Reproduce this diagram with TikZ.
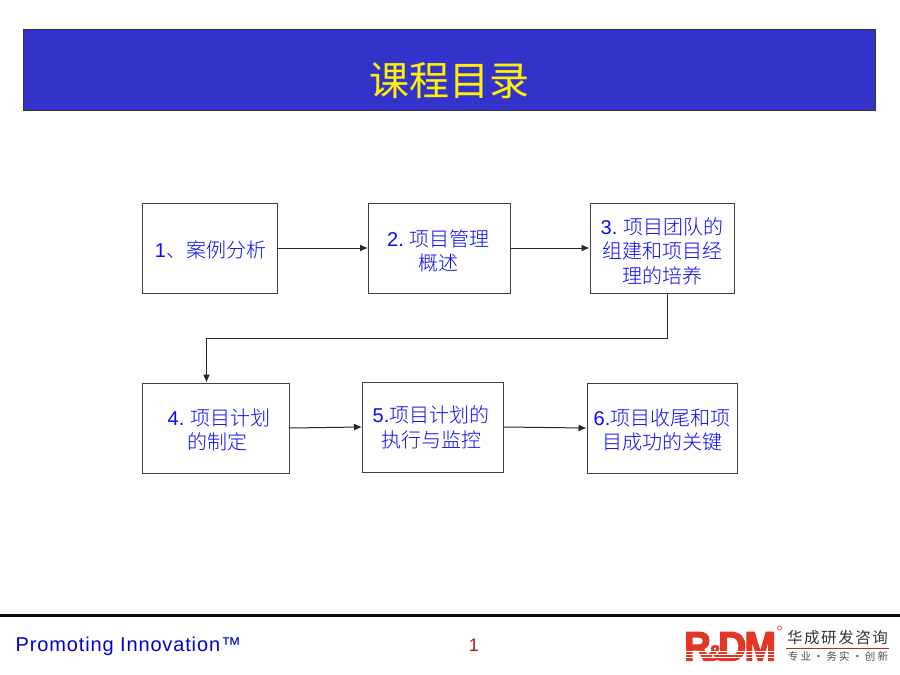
\documentclass[tikz,border=0pt]{standalone}
\usepackage{fontspec}
\setmainfont{Liberation Sans}
\newfontfamily\cjk{Noto Sans CJK SC}
\newfontfamily\cjkl{Noto Sans CJK SC Light}
\newfontfamily\logofont[FakeBold=3.5]{Liberation Sans Bold}
\usetikzlibrary{arrows.meta}
\definecolor{bannerblue}{RGB}{51,51,204}
\definecolor{txtblue}{RGB}{10,10,240}
\definecolor{footblue}{RGB}{0,0,204}
\definecolor{logored}{RGB}{226,54,38}
\definecolor{numred}{RGB}{150,30,30}
\tikzset{
  stepbox/.style={draw=black!75,line width=1pt,fill=white,inner sep=0pt},
  steptext/.style={text=txtblue,align=center,inner sep=0pt,font=\fontsize{20}{24.5}\selectfont\cjkl},
  flow/.style={draw=black!85,line width=1pt,-{Latex[length=8pt,width=7pt]}},
  logotext/.style={anchor=base west,inner sep=0pt,text=logored}
}
% box: name, x, y, width, height, text, text shift x, text shift y
\newcommand{\stepnode}[8]{\node[stepbox,minimum width=#4pt,minimum height=#5pt] (#1) at (#2,#3) {};
  \node[steptext] (#1t) at (#2+#7,#3+#8) {#6};}
\newcommand{\latin}[1]{{\fontspec{Liberation Sans}#1}}
\begin{document}
\begin{tikzpicture}[x=1pt,y=-1pt]
\useasboundingbox (0,0) rectangle (900,675);
\node[draw=black!80,line width=0.8pt,fill=bannerblue,minimum width=852pt,minimum height=81pt,inner sep=0pt] (banner) at (449.5,69.5) {};
\node[text=yellow,inner sep=0pt,font=\fontsize{40}{48}\selectfont\cjk] (title) at (449.5,80.5) {课程目录};
\stepnode{a}{209.5}{248}{135}{90}{\latin{1}、案例分析}{1}{2}
\stepnode{b}{439.5}{248}{142}{90}{\latin{2.} 项目管理\\概述}{-1}{3}
\stepnode{c}{662}{248}{144}{90}{\latin{3.} 项目团队的\\组建和项目经\\理的培养}{0}{3}
\stepnode{d}{215.5}{428}{147}{90}{\hspace*{3pt}\latin{4.} 项目计划\\的制定}{2}{2}
\stepnode{e}{433}{427}{141}{90}{\latin{5.}项目计划的\\执行与监控}{-2}{0.5}
\stepnode{f}{662}{428}{150}{90}{\latin{6.}项目收尾和项\\目成功的关键}{0}{2}
\draw[flow] (a.east) -- (b.west);
\draw[flow] (b.east) -- (c.west);
\coordinate (cdown) at (667,338);
\coordinate (dup) at (206.5,338);
\draw[flow] (c.south -| cdown) -- (cdown) -- (dup) -- (d.north -| dup);
\draw[flow] (d.east) -- (e.west);
\draw[flow] (e.east) -- (f.west);
% footer
\coordinate (ruleL) at (0,615); \coordinate (ruleR) at (900,615);
\draw[line width=3pt,draw=black!95] (ruleL) -- (ruleR);
\node[anchor=west,inner sep=0pt,text=footblue,font=\fontsize{20}{24}\selectfont] (slogan) at (15.5,646.5) {\addfontfeature{LetterSpace=4.3}Promoting Innovation™};
\node[text=numred,inner sep=0pt,font=\fontsize{18}{22}\selectfont] (num) at (474,645) {1};
% logo
\node[logotext,font=\logofont\fontsize{41}{41}\selectfont] (logo) at (684,660.5)
  {\scalebox{0.9}[1]{R}\kern-3.5pt{\fontsize{22}{22}\selectfont\&}\kern-5pt\scalebox{0.95}[1]{D}\kern-2pt\scalebox{0.93}[1]{M}};
\foreach \yy in {651,654,657.5}{\draw[white,line width=0.6pt] (683,\yy) -- (778,\yy);}
\node[draw=logored!70,circle,inner sep=0pt,minimum size=4pt,line width=0.9pt] (reg) at (779.5,628) {};
\node[inner sep=0pt,text=black!80,font=\fontsize{15.5}{17}\selectfont\cjk] (cn1) at (837.5,638) {\addfontfeature{LetterSpace=10}华成研发咨询};
\coordinate (ulL) at (786,648); \coordinate (ulR) at (889,648);
\draw[draw=logored!80!black,line width=0.8pt] (ulL) -- (ulR);
\node[inner sep=0pt,text=black!70,font=\fontsize{10.5}{12}\selectfont\cjk] (cn2) at (838,656.5) {专 业 · 务 实 · 创 新};
\end{tikzpicture}
\end{document}
